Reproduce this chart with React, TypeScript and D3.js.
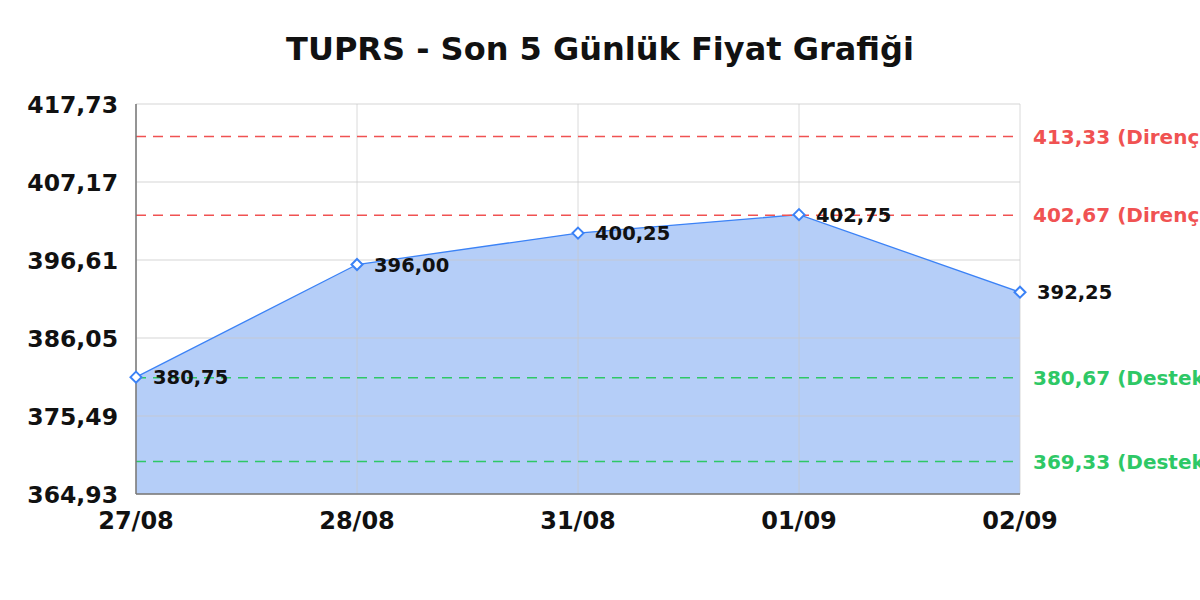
import * as d3 from "d3";
import React from "react";

const dates = ["27/08", "28/08", "31/08", "01/09", "02/09"];
const prices = [380.75, 396.0, 400.25, 402.75, 392.25];
const yTicks = [364.93, 375.49, 386.05, 396.61, 407.17, 417.73];
const resistance = [413.33, 402.67];
const support = [380.67, 369.33];

const W = 1200;
const H = 600;
const margin = { top: 104, right: 180, bottom: 106, left: 136 };
const FONT = "'DejaVu Sans', sans-serif";

const fmt = (v: number) => v.toFixed(2).replace(".", ",");

export default function App() {
  const x = d3
    .scalePoint<string>()
    .domain(dates)
    .range([margin.left, W - margin.right]);
  const y = d3
    .scaleLinear()
    .domain([yTicks[0], yTicks[yTicks.length - 1]])
    .range([H - margin.bottom, margin.top]);

  const pts = dates.map((d, i) => ({ d, v: prices[i] }));
  const area = d3
    .area<{ d: string; v: number }>()
    .x((p) => x(p.d)!)
    .y0(y(yTicks[0]))
    .y1((p) => y(p.v));
  const line = d3
    .line<{ d: string; v: number }>()
    .x((p) => x(p.d)!)
    .y((p) => y(p.v));

  const x0 = margin.left;
  const x1 = W - margin.right;
  const y0 = H - margin.bottom;

  const levels = [
    ...resistance.map((v) => ({ v, color: "#f05252", label: `${fmt(v)} (Direnç)` })),
    ...support.map((v) => ({ v, color: "#2ec866", label: `${fmt(v)} (Destek)` })),
  ];

  return (
    <svg
      width={W}
      height={H}
      style={{ position: "absolute", left: 0, top: 0, background: "#fff" }}
      fontFamily={FONT}
    >
      <text x={600} y={60} textAnchor="middle" fontSize={32} fontWeight="bold" fill="#111">
        TUPRS - Son 5 Günlük Fiyat Grafiği
      </text>

      {/* area + line */}
      <path d={area(pts)!} fill="#a8c6f7" fillOpacity={0.85} />

      {/* grid */}
      {yTicks.map((t) => (
        <line key={t} x1={x0} x2={x1} y1={y(t)} y2={y(t)} stroke="#c8c8c8" strokeOpacity={0.5} strokeWidth={1.3} />
      ))}
      {dates.map((d) => (
        <line key={d} x1={x(d)} x2={x(d)} y1={margin.top} y2={y0} stroke="#c8c8c8" strokeOpacity={0.5} strokeWidth={1.3} />
      ))}

      <path d={line(pts)!} fill="none" stroke="#3b82f6" strokeWidth={1.3} />

      {/* support / resistance */}
      {levels.map((l) => (
        <g key={l.label}>
          <line
            x1={x0}
            x2={x1}
            y1={y(l.v)}
            y2={y(l.v)}
            stroke={l.color}
            strokeWidth={1.5}
            strokeDasharray="10,7"
          />
          <text x={x1 + 13} y={y(l.v) + 7} fontSize={20} fontWeight="bold" fill={l.color}>
            {l.label}
          </text>
        </g>
      ))}

      {/* axes */}
      <line x1={x0} x2={x0} y1={margin.top} y2={y0} stroke="#777" strokeWidth={1.5} />
      <line x1={x0} x2={x1} y1={y0} y2={y0} stroke="#777" strokeWidth={1.5} />
      {yTicks.map((t) => (
        <text key={t} x={118} y={y(t) + 8.5} textAnchor="end" fontSize={23.5} fontWeight="bold" fill="#111">
          {fmt(t)}
        </text>
      ))}
      {dates.map((d) => (
        <text key={d} x={x(d)} y={529} textAnchor="middle" fontSize={24} fontWeight="bold" fill="#111">
          {d}
        </text>
      ))}

      {/* markers + labels */}
      {pts.map((p) => {
        const cx = x(p.d)!;
        const cy = y(p.v);
        return (
          <g key={p.d}>
            <path
              d={`M${cx},${cy - 5.5}L${cx + 5.5},${cy}L${cx},${cy + 5.5}L${cx - 5.5},${cy}Z`}
              fill="#fff"
              stroke="#3b82f6"
              strokeWidth={2}
            />
            <text x={cx + 17} y={cy + 7} fontSize={19.5} fontWeight="bold" fill="#111">
              {fmt(p.v)}
            </text>
          </g>
        );
      })}
    </svg>
  );
}
